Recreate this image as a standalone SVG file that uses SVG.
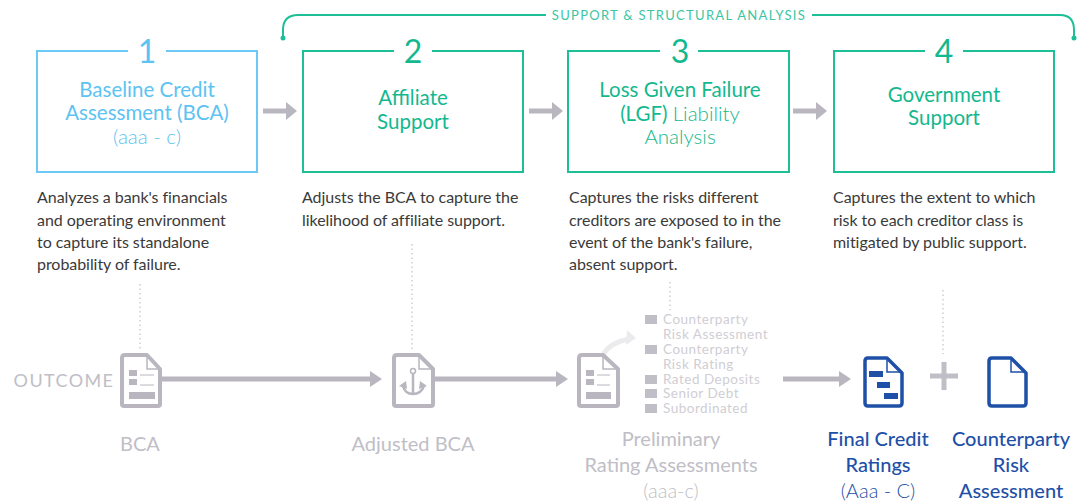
<svg xmlns="http://www.w3.org/2000/svg" width="1085" height="504" viewBox="0 0 1085 504">
<style>
text{font-family:Lato,"Open Sans",sans-serif;text-anchor:middle}
.box{fill:#fff;stroke-width:2}
.g{stroke:#1dbf96}.gt{fill:#14b88e}
.b{stroke:#6cc8f5}.bt{fill:#5cc3f2}
.num{font-size:32px}
.title{font-size:20.5px}
.desc{font-size:16px;fill:#3a3a3a;text-anchor:start;letter-spacing:-.05px}
.ar{stroke:#b9b6c0;stroke-width:5;fill:none}
.arh{fill:#b9b6c0}
.dot{stroke:#b5b3bb;stroke-width:1;stroke-dasharray:1.5 3;fill:none}
.doc{fill:#fff;stroke:#b9b6c0;stroke-width:4;stroke-linejoin:round}
.fold{fill:none;stroke:#b9b6c0;stroke-width:1.5}
.bar{fill:#b9b6c0}
.thin{stroke:#b9b6c0;stroke-width:1;fill:none}
.out{font-size:20px;fill:#c0bec6}
.list{font-size:13.5px;fill:#d0ced4;text-anchor:start;letter-spacing:.5px}
.sq{fill:#c0bec6}
.blue{fill:#1e50a8}
.bdoc{fill:#fff;stroke:#1e50a8;stroke-width:3.5;stroke-linejoin:round}
.bfold{fill:none;stroke:#1e50a8;stroke-width:1.5}
.bname{font-size:20px;fill:#1e50a8;font-weight:500}
.light{font-weight:300}
</style>
<g id="connectors">
<path d="M283 38V30Q283 15 298 15H546M812 15H1060Q1074 15 1074 30V38" fill="none" stroke="#1dbf96" stroke-width="2"/>
<circle cx="283" cy="38" r="2.5" fill="#1dbf96"/><circle cx="1074" cy="38" r="2.5" fill="#1dbf96"/>
<path class="ar" d="M263 111H287"/><path class="arh" d="M286 102L297 111L286 120Z"/>
<path class="ar" d="M529 111H553"/><path class="arh" d="M552 102L563 111L552 120Z"/>
<path class="ar" d="M793 111H817"/><path class="arh" d="M816 102L827 111L816 120Z"/>
<path class="dot" d="M140 284V350M412 244V350M670 282V310M943 290V354"/>
<path class="ar" d="M162 379H371"/><path class="arh" d="M370 371L382 379L370 387Z"/>
<path class="ar" d="M435 379H557"/><path class="arh" d="M556 371L568 379L556 387Z"/>
<path class="ar" d="M783 379H840"/><path class="arh" d="M839 371L851 379L839 387Z"/>
<path d="M603 355Q610 342 630 339" fill="none" stroke="#ebeaed" stroke-width="5"/><path d="M627 330L636 338L626 345Z" fill="#ebeaed"/>
</g>
<g id="step1">
<rect class="box b" x="37" y="51" width="220" height="121"/>
<rect x="128" y="40" width="38" height="20" fill="#fff"/>
<text class="num bt" x="147" y="63">1</text>
<text class="title bt" x="147" y="97">Baseline Credit</text>
<text class="title bt" x="147" y="120">Assessment (BCA)</text>
<text class="title bt light" x="147" y="144">(aaa - c)</text>
<text class="desc" x="37" y="203">Analyzes a bank's financials</text>
<text class="desc" x="37" y="226">and operating environment</text>
<text class="desc" x="37" y="248">to capture its standalone</text>
<text class="desc" x="37" y="270">probability of failure.</text>
</g>
<g id="step2">
<rect class="box g" x="303" y="51" width="220" height="121"/>
<rect x="394" y="40" width="38" height="20" fill="#fff"/>
<text class="num gt" x="413" y="63">2</text>
<text class="title gt" x="413" y="105">Affiliate</text>
<text class="title gt" x="413" y="129">Support</text>
<text class="desc" x="302" y="203">Adjusts the BCA to capture the</text>
<text class="desc" x="302" y="226">likelihood of affiliate support.</text>
</g>
<g id="step3">
<rect class="box g" x="568" y="51" width="221" height="121"/>
<rect x="660" y="40" width="38" height="20" fill="#fff"/>
<text class="num gt" x="680" y="63">3</text>
<text class="title gt" x="680" y="97">Loss Given Failure</text>
<text class="title gt" x="680" y="121">(LGF) <tspan class="light">Liability</tspan></text>
<text class="title gt light" x="680" y="144">Analysis</text>
<text class="desc" x="569" y="203">Captures the risks different</text>
<text class="desc" x="569" y="226">creditors are exposed to in the</text>
<text class="desc" x="569" y="248">event of the bank's failure,</text>
<text class="desc" x="569" y="270">absent support.</text>
</g>
<g id="step4">
<rect class="box g" x="834" y="51" width="220" height="121"/>
<rect x="925" y="40" width="38" height="20" fill="#fff"/>
<text class="num gt" x="944" y="63">4</text>
<text class="title gt" x="944" y="102">Government</text>
<text class="title gt" x="944" y="125">Support</text>
<text class="desc" x="833" y="203">Captures the extent to which</text>
<text class="desc" x="833" y="226">risk to each creditor class is</text>
<text class="desc" x="833" y="248">mitigated by public support.</text>
</g>
<g id="banner"><text x="679" y="20" font-size="13" fill="#3cc6a3" letter-spacing="1.3">SUPPORT &amp; STRUCTURAL ANALYSIS</text></g>
<g id="outcome-label"><text x="64" y="387" font-size="18" fill="#c0bec6" letter-spacing="1.4">OUTCOME</text></g>
<g id="bca">
<path class="doc" d="M125 355H147L160 369V404Q160 406 158 406H124Q122 406 122 404V358Q122 355 125 355Z"/>
<path class="fold" d="M147 355V369H160"/>
<rect class="bar" x="129" y="370" width="8" height="6"/><rect class="bar" x="129" y="379" width="8" height="6"/>
<path class="thin" d="M140 375H154M140 385H154"/><rect class="bar" x="129" y="392" width="26" height="7"/>
<text class="out" x="140" y="451">BCA</text>
</g>
<g id="adjusted-bca">
<path class="doc" d="M397 355H419L433 369V404Q433 406 431 406H396Q394 406 394 404V358Q394 355 397 355Z"/>
<path class="fold" d="M419 355V369H433"/>
<circle cx="413" cy="371" r="2.5" fill="none" stroke="#b9b6c0" stroke-width="1.5"/>
<path d="M413 374V394M403 386Q405 394 413 394Q421 394 424 386" fill="none" stroke="#b9b6c0" stroke-width="2.5"/>
<path class="bar" d="M399 386L406 381L407 389ZM427 386L420 381L419 389Z"/>
<text class="out" x="413" y="451">Adjusted BCA</text>
</g>
<g id="preliminary">
<path class="doc" d="M582 355H603L618 369V404Q618 406 616 406H581Q579 406 579 404V358Q579 355 582 355Z"/>
<path class="fold" d="M603 355V369H618"/>
<rect class="bar" x="586" y="370" width="8" height="6"/><rect class="bar" x="586" y="379" width="8" height="6"/>
<path class="thin" d="M597 375H610M597 385H610"/><rect class="bar" x="586" y="392" width="25" height="7"/>
<rect class="sq" x="645" y="315" width="12" height="9"/><text class="list" x="663" y="324">Counterparty</text><text class="list" x="663" y="339">Risk Assessment</text>
<rect class="sq" x="645" y="345" width="12" height="9"/><text class="list" x="663" y="354">Counterparty</text><text class="list" x="663" y="369">Risk Rating</text>
<rect class="sq" x="645" y="375" width="12" height="9"/><text class="list" x="663" y="384">Rated Deposits</text>
<rect class="sq" x="645" y="389" width="12" height="9"/><text class="list" x="663" y="398">Senior Debt</text>
<rect class="sq" x="645" y="404" width="12" height="9"/><text class="list" x="663" y="413">Subordinated</text>
<text class="out" x="671" y="446">Preliminary</text>
<text class="out" x="671" y="472">Rating Assessments</text>
<text class="out light" x="671" y="498">(aaa-c)</text>
</g>
<g id="final-ratings">
<path class="bdoc" d="M868 358H887L902 373V403Q902 406 899 406H868Q865 406 865 403V361Q865 358 868 358Z"/>
<path class="bfold" d="M887 358V372H902"/>
<rect class="blue" x="869" y="371" width="14" height="6"/><rect class="blue" x="877" y="382" width="13" height="6"/><rect class="blue" x="884" y="393" width="14" height="6"/>
<text class="bname" x="878" y="446">Final Credit</text>
<text class="bname" x="878" y="472">Ratings</text>
<text class="bname light" x="878" y="498">(Aaa - C)</text>
</g>
<g id="plus"><path d="M930 376H958M944 362V390" stroke="#c0bec6" stroke-width="5" fill="none"/></g>
<g id="counterparty-risk">
<path class="bdoc" d="M992 358H1011L1026 373V403Q1026 406 1023 406H992Q989 406 989 403V361Q989 358 992 358Z"/>
<path class="bfold" d="M1011 358V372H1026"/>
<text class="bname" x="1011" y="446">Counterparty</text>
<text class="bname" x="1011" y="472">Risk</text>
<text class="bname" x="1011" y="498">Assessment</text>
</g>
</svg>
